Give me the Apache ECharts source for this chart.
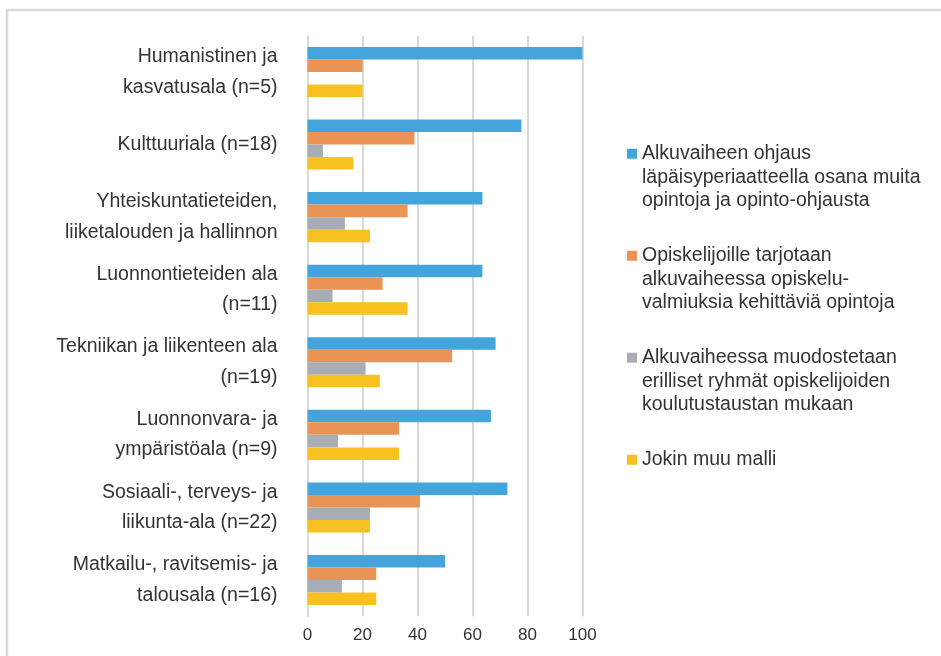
<!DOCTYPE html>
<html>
<head>
<meta charset="utf-8">
<script src="https://cdn.jsdelivr.net/npm/echarts@6/dist/echarts.min.js"></script>
<style>
  html, body { margin: 0; padding: 0; background: #fff; }
  #chart { width: 941px; height: 656px; }
</style>
</head>
<body>
<div id="chart"></div>
<script>
// categories, top to bottom (labels already wrapped like in the source)
const categories = [
  "Humanistinen ja\nkasvatusala (n=5)",
  "Kulttuuriala (n=18)",
  "Yhteiskuntatieteiden,\nliiketalouden ja hallinnon",
  "Luonnontieteiden ala\n(n=11)",
  "Tekniikan ja liikenteen ala\n(n=19)",
  "Luonnonvara- ja\nympäristöala (n=9)",
  "Sosiaali-, terveys- ja\nliikunta-ala (n=22)",
  "Matkailu-, ravitsemis- ja\ntalousala (n=16)"
];

const seriesNames = [
  "Alkuvaiheen ohjaus\nläpäisyperiaatteella osana muita\nopintoja ja opinto-ohjausta",
  "Opiskelijoille tarjotaan\nalkuvaiheessa opiskelu-\nvalmiuksia kehittäviä opintoja",
  "Alkuvaiheessa muodostetaan\nerilliset ryhmät opiskelijoiden\nkoulutustaustan mukaan",
  "Jokin muu malli"
];

// percentages per category
const ohjaus     = [100, 77.8, 63.6, 63.6, 68.4, 66.7, 72.7, 50];
const valmiudet  = [20, 38.9, 36.4, 27.3, 52.6, 33.3, 40.9, 25];
const ryhmat     = [0, 5.6, 13.6, 9.1, 21.1, 11.1, 22.7, 12.5];
const muuMalli   = [20, 16.7, 22.7, 36.4, 26.3, 33.3, 22.7, 25];

const colors = ["#44a5dc", "#e99454", "#a7adb4", "#f7c121"];
const values = [ohjaus, valmiudet, ryhmat, muuMalli];

const textColor = "#333333";
const font = "'Liberation Sans', Arial, sans-serif";

const chart = echarts.init(document.getElementById("chart"));

chart.setOption({
  animation: false,
  color: colors,
  textStyle: { fontFamily: font },
  graphic: [{
    type: "rect",
    shape: { x: 7, y: 10, width: 2000, height: 2000 },
    style: { fill: "none", stroke: "#d9d9d9", lineWidth: 2.5 },
    silent: true
  }],
  grid: {
    left: 307.5,
    right: 358.5,
    top: 35.7,
    bottom: 39.7,
    containLabel: false
  },
  legend: {
    orient: "vertical",
    left: 627,
    top: 95,
    padding: 0,
    itemGap: -15.5,
    itemWidth: 10,
    itemHeight: 10,
    itemTextGap: 9,
    icon: "rect",
    selectedMode: false,
    // pad so that the marker sits next to the first line of each label
    formatter: function (name) {
      const lines = name.split("\n").length;
      return "\n\n" + name + (lines === 1 ? "\n\n" : "");
    },
    textStyle: {
      color: textColor,
      fontSize: 19.5,
      lineHeight: 23.5,
      fontFamily: font
    },
    data: seriesNames
  },
  xAxis: {
    type: "value",
    min: 0,
    max: 100,
    interval: 20,
    axisLine: { show: false },
    axisTick: { show: false },
    axisLabel: { color: textColor, fontSize: 17, margin: 11, fontFamily: font },
    splitLine: { lineStyle: { color: "#d9d9d9", width: 2 } }
  },
  yAxis: {
    type: "category",
    inverse: true,
    data: categories,
    axisLine: { show: true, lineStyle: { color: "#d9d9d9", width: 2 } },
    axisTick: { show: false },
    axisLabel: {
      color: textColor,
      fontSize: 19.5,
      lineHeight: 30.5,
      margin: 30,
      padding: [6, 0, 0, 0],
      fontFamily: font
    }
  },
  series: seriesNames.map((name, i) => ({
    name: name,
    type: "bar",
    data: values[i],
    barGap: "0%",
    barCategoryGap: "31%",
    itemStyle: { color: colors[i] }
  }))
});
</script>
</body>
</html>
